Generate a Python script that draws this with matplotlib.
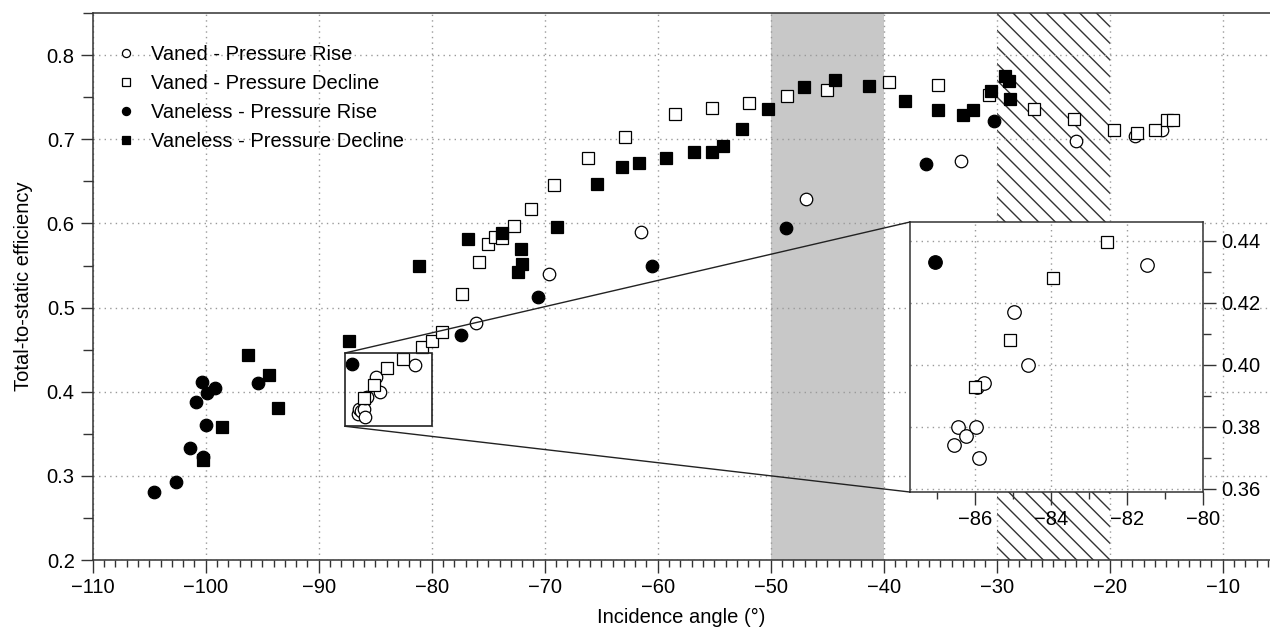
import numpy as np
import matplotlib
matplotlib.use("Agg")
import matplotlib.pyplot as plt
from matplotlib.patches import Rectangle, ConnectionPatch
from matplotlib.ticker import MultipleLocator, FormatStrFormatter

plt.rcParams.update({
    "font.family": ["Liberation Sans", "DejaVu Sans"],
    "font.size": 14,
    "hatch.linewidth": 1.0,
    "axes.unicode_minus": True,
})

# incidence angle (deg) / total-to-static efficiency, one pair of lists per series
vaned_rise_x = [-86.54, -86.43, -86.22, -85.96, -85.88, -85.93, -85.75, -84.96,
                -84.59, -81.46, -76.1, -69.6, -61.5, -46.9, -33.2, -23.0,
                -17.8, -15.35]
vaned_rise_y = [0.374, 0.380, 0.377, 0.380, 0.370, 0.393, 0.394, 0.417,
                0.400, 0.432, 0.482, 0.540, 0.590, 0.629, 0.674, 0.698,
                0.704, 0.711]

vaned_decl_x = [-86.0, -85.07, -83.93, -82.51, -80.85, -80.0, -79.1, -77.35,
                -75.8, -75.0, -74.4, -73.8, -72.7, -71.2, -69.15, -66.2,
                -62.9, -58.5, -55.2, -51.9, -48.6, -45.0, -39.5, -35.2,
                -30.7, -26.7, -23.15, -19.6, -17.6, -16.0, -14.9, -14.4]
vaned_decl_y = [0.393, 0.408, 0.428, 0.4395, 0.453, 0.460, 0.471, 0.516,
                0.554, 0.576, 0.584, 0.583, 0.597, 0.617, 0.646, 0.678,
                0.703, 0.730, 0.737, 0.743, 0.752, 0.759, 0.768, 0.765,
                0.753, 0.736, 0.724, 0.7115, 0.7075, 0.7115, 0.7226, 0.7234]

vaneless_rise_x = [-104.6, -102.65, -101.4, -100.25, -99.95, -100.9, -99.9,
                   -100.3, -99.2, -95.4, -87.03, -77.4, -70.6, -60.5, -48.65,
                   -36.3, -30.2]
vaneless_rise_y = [0.281, 0.293, 0.333, 0.323, 0.360, 0.388, 0.398,
                   0.411, 0.404, 0.410, 0.433, 0.467, 0.513, 0.550, 0.595,
                   0.671, 0.722]

vaneless_decl_x = [-100.2, -98.6, -96.3, -94.4, -93.6, -87.3, -81.1, -76.8,
                   -73.8, -72.1, -72.0, -72.4, -68.9, -65.4, -63.15, -61.7,
                   -59.3, -56.8, -55.2, -54.2, -52.5, -50.2, -47.05, -44.3,
                   -41.3, -38.1, -35.2, -33.0, -32.1, -30.5, -29.3, -28.9,
                   -28.85]
vaneless_decl_y = [0.319, 0.358, 0.444, 0.420, 0.381, 0.460, 0.549, 0.581,
                   0.589, 0.570, 0.5515, 0.5425, 0.596, 0.647, 0.667, 0.672,
                   0.678, 0.6846, 0.6846, 0.692, 0.7125, 0.7365, 0.7626, 0.770,
                   0.763, 0.746, 0.7345, 0.7285, 0.735, 0.757, 0.775, 0.769,
                   0.748]

labels = ["Vaned - Pressure Rise", "Vaned - Pressure Decline",
          "Vaneless - Pressure Rise", "Vaneless - Pressure Decline"]

GRID = dict(color="#9a9a9a", linestyle=(0, (1, 3)), linewidth=1.0)


def draw_series(ax, scale=1.0, with_labels=False):
    series = [
        (vaned_rise_x, vaned_rise_y, "o", "white", 9.0),
        (vaned_decl_x, vaned_decl_y, "s", "white", 8.0),
        (vaneless_rise_x, vaneless_rise_y, "o", "black", 9.0),
        (vaneless_decl_x, vaneless_decl_y, "s", "black", 8.0),
    ]
    for (x, y, m, fc, ms), lab in zip(series, labels):
        ax.plot(x, y, linestyle="none", marker=m, ms=ms * scale,
                mfc=fc, mec="black", mew=0.9, zorder=3,
                label=lab if with_labels else None)


def style_ticks(ax):
    ax.tick_params(which="major", direction="out", length=9, width=1.0,
                   color="#333333", labelsize=14.5, pad=4)
    ax.tick_params(which="minor", direction="out", length=5, width=1.0,
                   color="#333333")
    for s in ax.spines.values():
        s.set_linewidth(1.1)
        s.set_color("#333333")


fig = plt.figure(figsize=(12.7, 6.3), dpi=100)
ax = fig.add_axes([0.073, 0.1111, 0.927, 0.868])

X0, X1 = -110, -5.82
ax.set_xlim(X0, X1)
ax.set_ylim(0.2, 0.85)

ax.axvspan(-50, -40, facecolor="#c8c8c8", edgecolor="none", zorder=0)
ax.axvspan(-30, -20, facecolor="none", edgecolor="#333333", hatch="\\\\",
           linewidth=0, zorder=0.5)

ax.xaxis.set_major_locator(MultipleLocator(10))
ax.xaxis.set_minor_locator(MultipleLocator(1))
ax.yaxis.set_major_locator(MultipleLocator(0.1))
ax.yaxis.set_minor_locator(MultipleLocator(0.05))
ax.grid(True, which="major", **GRID)
ax.set_axisbelow(True)
style_ticks(ax)
ax.tick_params(axis="x", which="minor", length=5)
ax.tick_params(axis="y", which="minor", length=7)
ax.spines["right"].set_visible(False)

draw_series(ax, with_labels=True)

ax.set_xlabel("Incidence angle (°)", fontsize=14.5, labelpad=8)
ax.set_ylabel("Total-to-static efficiency", fontsize=14.5, labelpad=10)

leg = ax.legend(loc="upper left", bbox_to_anchor=(0.008, 0.968), frameon=False,
                fontsize=14.5, markerscale=0.65, handlelength=1.0,
                handletextpad=0.75, labelspacing=0.5, borderaxespad=0.3)

# zoom box around the cluster near -86 deg
zx0, zx1, zy0, zy1 = -87.7, -80.0, 0.359, 0.446
ax.add_patch(Rectangle((zx0, zy0), zx1 - zx0, zy1 - zy0, fill=False,
                       edgecolor="#222222", linewidth=1.2, zorder=4))

axin = fig.add_axes([0.7165, 0.2190, 0.2307, 0.4286])
axin.set_facecolor("white")
axin.set_xlim(zx0, zx1)
axin.set_ylim(zy0, zy1)
axin.xaxis.set_major_locator(MultipleLocator(2))
axin.xaxis.set_minor_locator(MultipleLocator(1))
axin.yaxis.set_major_locator(MultipleLocator(0.02))
axin.yaxis.set_minor_locator(MultipleLocator(0.01))
axin.yaxis.tick_right()
axin.yaxis.set_major_formatter(FormatStrFormatter("%.2f"))
axin.grid(True, which="major", **GRID)
axin.set_axisbelow(True)
style_ticks(axin)
axin.tick_params(axis="y", which="minor", length=6)
draw_series(axin, scale=1.08)

for ya, yb in [(zy1, 1), (zy0, 0)]:
    con = ConnectionPatch(xyA=(zx0, ya), coordsA=ax.transData,
                          xyB=(0, yb), coordsB=axin.transAxes,
                          color="#222222", linewidth=1.0)
    fig.add_artist(con)

fig.savefig("out.png", dpi=100)
